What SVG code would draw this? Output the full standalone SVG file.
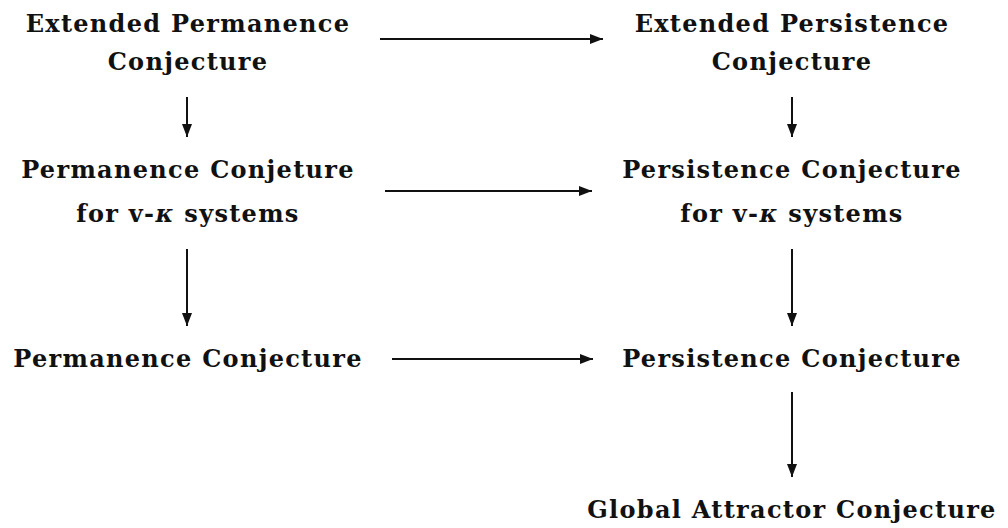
<svg xmlns="http://www.w3.org/2000/svg" width="1008" height="528" viewBox="0 0 1008 528">
<style>
text{font-family:"DejaVu Serif",serif;font-weight:bold;font-size:24px;letter-spacing:1.3px;fill:#111;text-anchor:middle}
.c line{stroke:#111;stroke-width:2}
</style>
<defs>
<marker id="ah" markerUnits="userSpaceOnUse" markerWidth="14" markerHeight="12" refX="13" refY="5" orient="auto"><path d="M0,0 L13,5 L0,10 z" fill="#111"/></marker>
</defs>
<rect width="1008" height="528" fill="#fff"/>
<g id="n1"><text x="188" y="32">Extended Permanence</text><text x="188" y="70">Conjecture</text></g>
<g id="n2"><text x="792" y="32">Extended Persistence</text><text x="792" y="70">Conjecture</text></g>
<g id="n3"><text x="188" y="178">Permanence Conjeture</text><text x="188" y="222">for v-<tspan font-style="italic">κ</tspan> systems</text></g>
<g id="n4"><text x="792" y="178">Persistence Conjecture</text><text x="792" y="222">for v-<tspan font-style="italic">κ</tspan> systems</text></g>
<g id="n5"><text x="188" y="367">Permanence Conjecture</text></g>
<g id="n6"><text x="792" y="367">Persistence Conjecture</text></g>
<g id="n7"><text x="792" y="518">Global Attractor Conjecture</text></g>
<g class="c" id="connectors">
<line x1="380" y1="39" x2="603" y2="39" marker-end="url(#ah)"/>
<line x1="385" y1="191" x2="592" y2="191" marker-end="url(#ah)"/>
<line x1="392" y1="359" x2="593" y2="359" marker-end="url(#ah)"/>
<line x1="187" y1="97" x2="187" y2="137" marker-end="url(#ah)"/>
<line x1="187" y1="249" x2="187" y2="326" marker-end="url(#ah)"/>
<line x1="792" y1="97" x2="792" y2="137" marker-end="url(#ah)"/>
<line x1="792" y1="249" x2="792" y2="326" marker-end="url(#ah)"/>
<line x1="792" y1="392" x2="792" y2="477" marker-end="url(#ah)"/>
</g>
</svg>
